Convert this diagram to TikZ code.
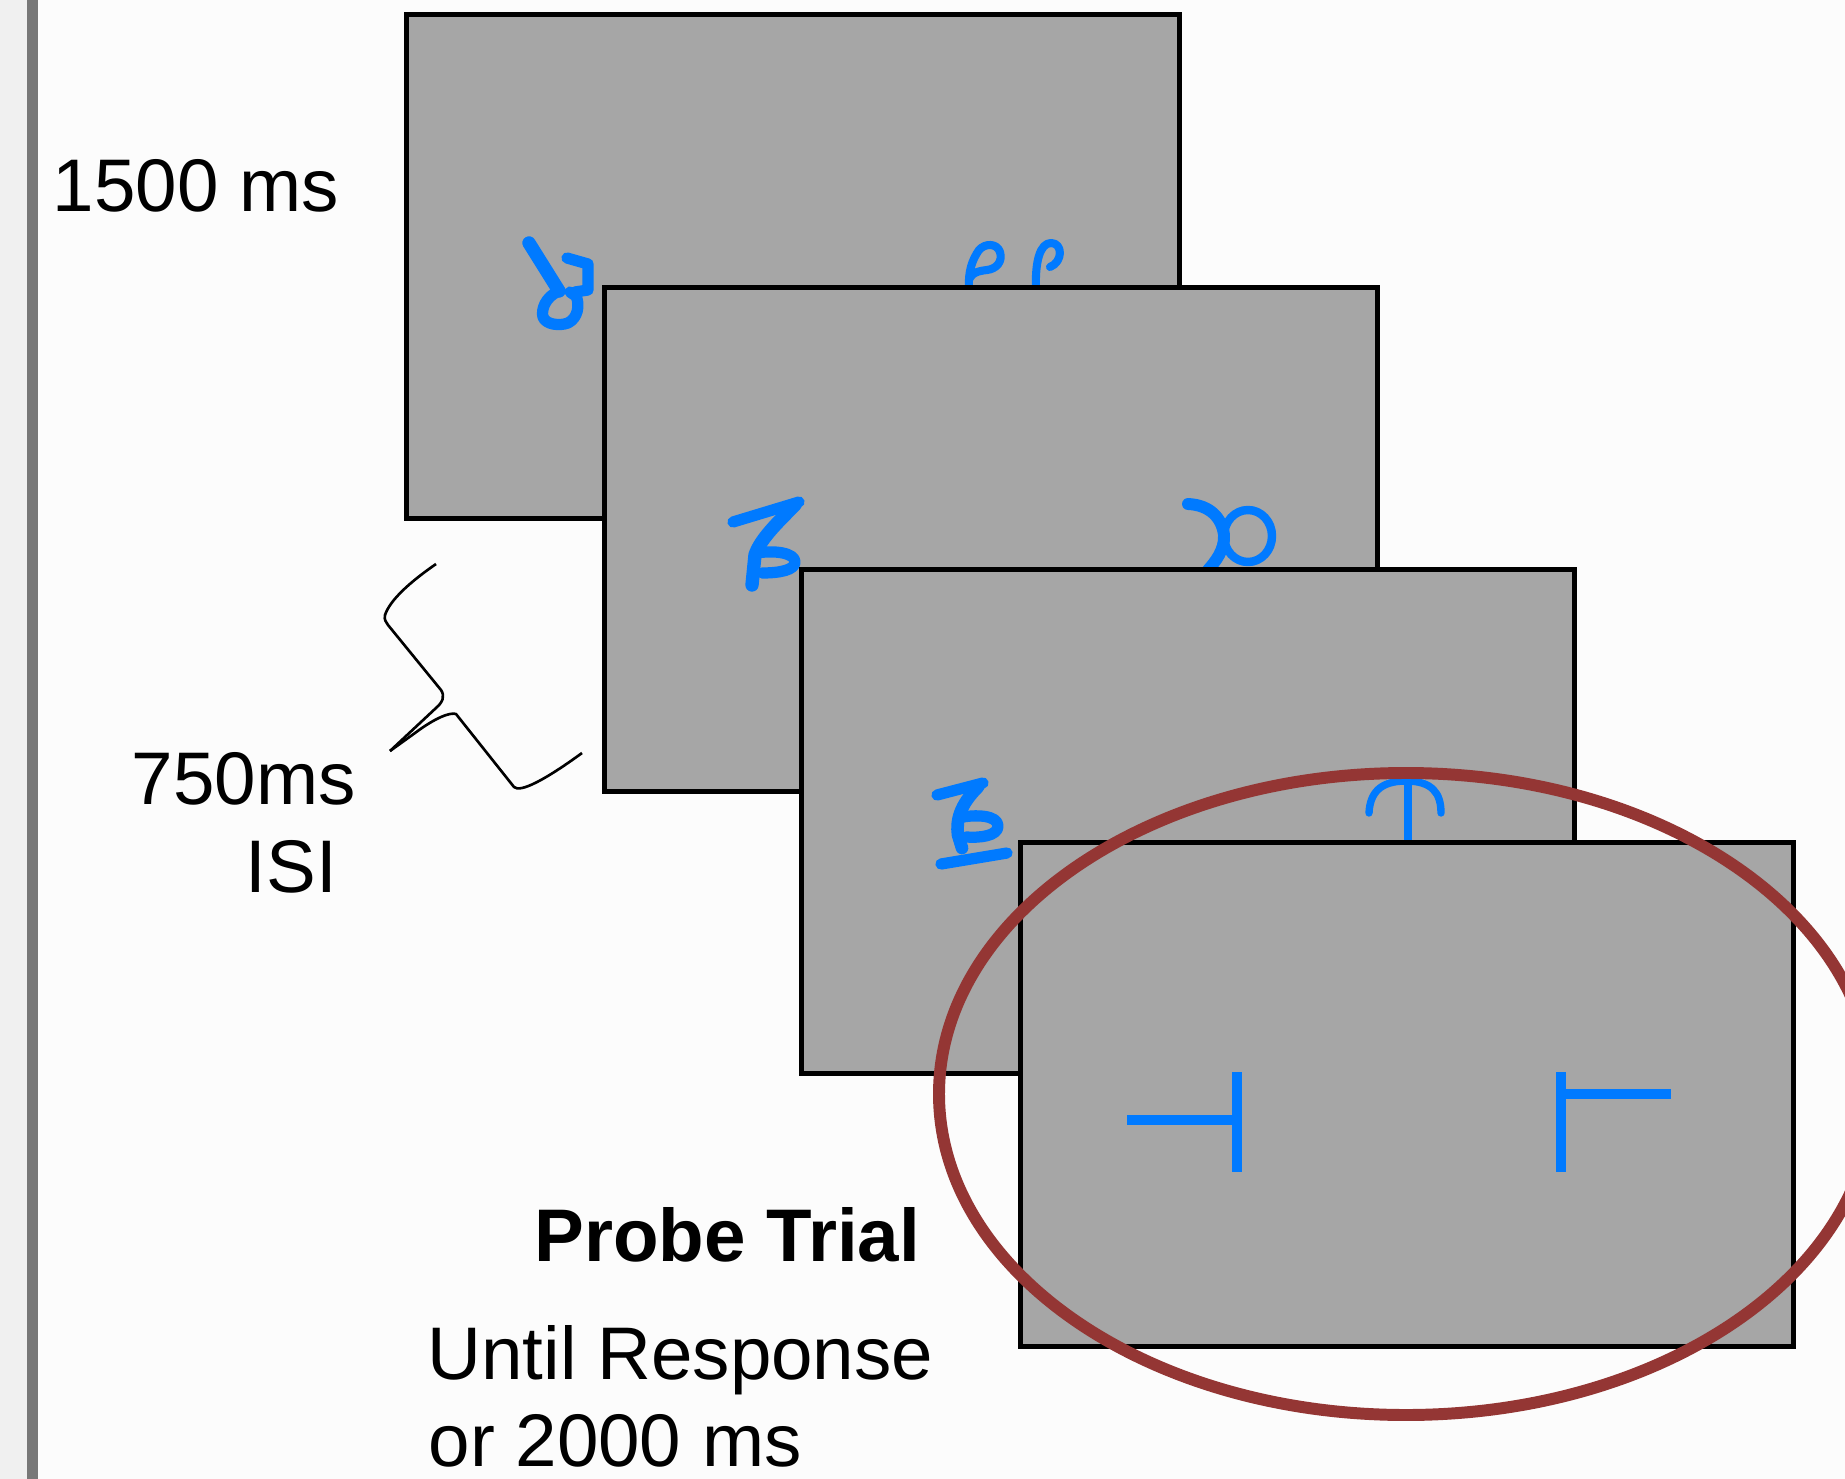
\documentclass[tikz,border=0pt]{standalone}
\usepackage{fontspec}
\setmainfont{Liberation Sans}
\definecolor{slidegray}{RGB}{166,166,166}
\definecolor{glyphblue}{RGB}{0,122,255}
\definecolor{ringred}{RGB}{148,54,52}
\definecolor{edgebar}{RGB}{120,120,120}
\tikzset{
	frame/.style={draw=black, fill=slidegray, line width=1.35pt, minimum width=7.72cm, minimum height=5.03cm, inner sep=0pt, outer sep=0pt},
	glyph/.style={draw=glyphblue, line width=3.2pt, line cap=round, line join=round},
	bar/.style={draw=glyphblue, line width=3.1pt},
	lbl/.style={font=\fontsize{21.2}{25}\selectfont, inner sep=0pt, anchor=base west},
}
\begin{document}
\begin{tikzpicture}[x=0.01cm, y=-0.01cm]
	\clip (0, 0) rectangle (1845, 1479);
	\fill[gray!2] (0, 0) rectangle (1845, 1479);
	\fill[gray!12] (0, 0) rectangle (27, 1479);
	\fill[edgebar] (27, 0) rectangle (38, 1479);
	% first study frame
	\node[frame] (frameA) at (793, 266.5) {};
	\draw[glyph, line width=3.8pt] (529, 243) -- (559, 291);
	\draw[glyph] (559, 291) .. controls (545, 297) and (541, 310) .. (543, 317) .. controls (546, 325) and (560, 326) .. (568, 323) .. controls (578, 318) and (580, 305) .. (576, 296) -- (570, 292);
	\draw[glyph] (567, 258) -- (588, 264) -- (588, 290) -- (575, 292);
	\draw[glyph, line width=2.3pt] (969, 288) .. controls (968, 272) and (972, 260) .. (979, 250) .. controls (985, 243) and (997, 243) .. (1000, 252) .. controls (1003, 262) and (996, 269) .. (987, 270) .. controls (978, 271) and (972, 273) .. (970, 278);
	\draw[glyph, line width=2.3pt] (1036, 288) .. controls (1035, 262) and (1040, 243) .. (1051, 243) .. controls (1063, 243) and (1063, 262) .. (1050, 267);
	% second study frame
	\node[frame] (frameB) at (991, 539.5) {};
	\draw[glyph] (733, 522) -- (799, 502);
	\draw[glyph, line width=3.8pt] (795, 505) .. controls (775, 525) and (760, 540) .. (755, 555) -- (752, 585);
	\draw[glyph] (757, 553) .. controls (775, 550) and (795, 553) .. (795, 562) .. controls (795, 570) and (780, 573) .. (762, 573);
	\draw[glyph, line width=2.4pt] (1248, 536) ellipse (24 and 26);
	\draw[glyph, line width=3.4pt] (1188, 504) .. controls (1210, 505) and (1222, 518) .. (1224, 535) .. controls (1225, 550) and (1215, 562) .. (1208, 570);
	% third study frame
	\node[frame] (frameC) at (1188, 821.5) {};
	\draw[glyph] (937, 795) -- (983, 783);
	\draw[glyph, line width=3.6pt] (978, 787) .. controls (960, 805) and (956, 820) .. (958, 835) -- (962, 848);
	\draw[glyph] (958, 818) .. controls (975, 814) and (998, 815) .. (998, 826) .. controls (998, 836) and (980, 838) .. (966, 837);
	\draw[glyph] (941, 864) -- (1007, 853);
	\draw[glyph, line width=2.1pt] (1369, 813) .. controls (1370, 793) and (1380, 781) .. (1406, 781) .. controls (1432, 781) and (1441, 793) .. (1441, 813);
	\draw[glyph, line width=2pt, line cap=butt] (1408, 781) -- (1408, 843);
	% probe frame
	\node[frame] (frameD) at (1407, 1094.5) {};
	\draw[bar] (1237, 1072) -- (1237, 1172);
	\draw[bar] (1127, 1120) -- (1237, 1120);
	\draw[bar] (1561, 1072) -- (1561, 1172);
	\draw[bar] (1561, 1094) -- (1671, 1094);
	\draw[ringred, line width=3.4pt] (1406, 1094) ellipse (467 and 321);
	% brace for the ISI
	\draw[black, line width=0.75pt, line join=round] (436, 564) .. controls (410, 582) and (390, 600) .. (385, 615) .. controls (384, 620) and (386, 622) .. (388, 625) -- (441, 690) .. controls (445, 696) and (443, 702) .. (436, 708) -- (390, 751);
	\draw[black, line width=0.75pt, line join=round] (390, 751) -- (415, 733) .. controls (435, 718) and (450, 712) .. (456, 714) -- (514, 787) .. controls (520, 793) and (545, 780) .. (582, 753);
	% timing labels
	\node[lbl] (tStudy) at (52, 212) {1500 ms};
	\node[lbl] (tGap) at (131, 804) {750ms};
	\node[lbl] (tIsi) at (245, 892) {ISI};
	\node[lbl, font=\fontsize{21.2}{25}\selectfont\bfseries] (tProbe) at (534, 1261) {Probe Trial};
	\node[lbl] (tUntil) at (427, 1379) {Until Response};
	\node[lbl] (tOr) at (428, 1466) {or 2000 ms};
\end{tikzpicture}
\end{document}
